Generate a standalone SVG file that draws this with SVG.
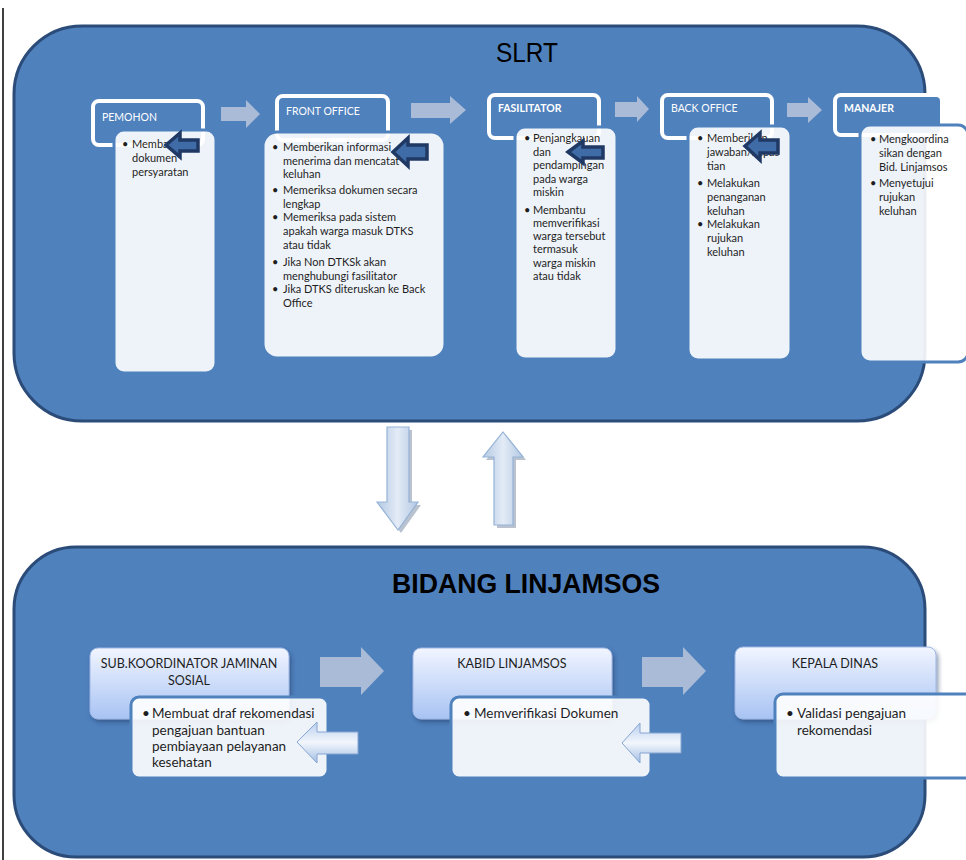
<svg xmlns="http://www.w3.org/2000/svg" width="966" height="860" viewBox="0 0 966 860">
<defs>
<style>
.container{fill:#4f81bd;stroke:#2b4b78;stroke-width:3}
.hdr{fill:#4f81bd;stroke:#ffffff;stroke-width:4}
.hlab{font-family:Lato,"Open Sans",sans-serif;font-size:10.5px;fill:#ffffff}
.card{fill:#ffffff;fill-opacity:0.9;stroke:#4f81bd;stroke-width:3}
.t{font-family:Lato,"Open Sans",sans-serif;font-size:11px;fill:#1e1e1e}
.tb{font-family:Lato,"Open Sans",sans-serif;font-size:13.5px;fill:#1e1e1e}
.bh{fill:url(#hg);stroke:#9db6e4;stroke-width:1}
.bhl{font-family:Lato,"Open Sans",sans-serif;font-size:12.5px;fill:#1e1e1e;text-anchor:middle}
.title{font-family:"Liberation Sans Narrow","Liberation Sans",Arial,sans-serif;fill:#000000;text-anchor:middle}
.flow{fill:#a9bbd6}
.dark{fill:#3f6ca6;stroke:#1f3864;stroke-width:3.5;stroke-linejoin:miter}
.lite{fill:url(#lg);stroke:#86a5d2;stroke-width:1}
.vert{fill:url(#vg);stroke:#95b3d7;stroke-width:1.2}
.shadow{fill:#7f8fa6;opacity:0.55}
</style>
<linearGradient id="hg" x1="0" y1="0" x2="0" y2="1">
<stop offset="0" stop-color="#f1f5ff"/>
<stop offset="1" stop-color="#a8c3f3"/>
</linearGradient>
<linearGradient id="lg" x1="0" y1="0" x2="0" y2="1">
<stop offset="0" stop-color="#b9cfee"/>
<stop offset="0.5" stop-color="#f2f6fc"/>
<stop offset="1" stop-color="#a2bde3"/>
</linearGradient>
<linearGradient id="vg" x1="0" y1="0" x2="1" y2="0">
<stop offset="0" stop-color="#b3c8e3"/>
<stop offset="0.5" stop-color="#e3ebf6"/>
<stop offset="1" stop-color="#b3c8e3"/>
</linearGradient>
<filter id="sh" x="-10%" y="-10%" width="125%" height="135%">
<feDropShadow dx="2" dy="3" stdDeviation="2" flood-color="#1f3864" flood-opacity="0.5"/>
</filter>
</defs>

<rect width="966" height="860" fill="#ffffff"/>
<line x1="3" y1="8" x2="3" y2="860" stroke="#000000" stroke-width="1.5"/>

<g id="slrt">
<rect class="container" x="14" y="26" width="911" height="395" rx="68" ry="68"/>
<text class="title" x="527" y="62" font-size="28" textLength="62" lengthAdjust="spacingAndGlyphs">SLRT</text>
</g>

<g id="bidang">
<rect class="container" x="14" y="547" width="911" height="310" rx="62" ry="62"/>
<text class="title" x="526" y="593" font-size="28" font-weight="bold" textLength="268" lengthAdjust="spacingAndGlyphs">BIDANG LINJAMSOS</text>
</g>

<g id="pemohon">
<rect class="hdr" x="93" y="101" width="110" height="44" rx="6"/>
<text class="hlab" x="102" y="121">PEMOHON</text>
<rect class="card" x="114" y="130" width="102" height="243" rx="10"/>
<text class="t" x="122" y="148">•</text>
<text class="t" x="132" y="148">Membawa</text>
<text class="t" x="132" y="162">dokumen</text>
<text class="t" x="132" y="176">persyaratan</text>
</g>

<g id="front-office">
<rect class="hdr" x="277" y="96" width="111" height="44" rx="6"/>
<text class="hlab" x="286" y="115">FRONT OFFICE</text>
<rect class="card" x="263" y="132" width="182" height="226" rx="14"/>
<text class="t" x="272" y="151">•</text>
<text class="t" x="283" y="151">Memberikan informasi</text>
<text class="t" x="283" y="164.5">menerima dan mencatat</text>
<text class="t" x="283" y="178">keluhan</text>
<text class="t" x="272" y="194">•</text>
<text class="t" x="283" y="194">Memeriksa dokumen secara</text>
<text class="t" x="283" y="207.5">lengkap</text>
<text class="t" x="272" y="221">•</text>
<text class="t" x="283" y="221">Memeriksa pada sistem</text>
<text class="t" x="283" y="235">apakah warga masuk DTKS</text>
<text class="t" x="283" y="249">atau tidak</text>
<text class="t" x="272" y="266">•</text>
<text class="t" x="283" y="266">Jika Non DTKSk akan</text>
<text class="t" x="283" y="279.5">menghubungi fasilitator</text>
<text class="t" x="272" y="293">•</text>
<text class="t" x="283" y="293">Jika DTKS diteruskan ke Back</text>
<text class="t" x="283" y="307">Office</text>
</g>

<g id="fasilitator">
<rect class="hdr" x="489" y="95" width="110" height="43" rx="6"/>
<text class="hlab" x="498" y="112" font-weight="bold">FASILITATOR</text>
<rect class="card" x="515" y="127" width="102" height="232" rx="10"/>
<text class="t" x="524" y="142">•</text>
<text class="t" x="533" y="142">Penjangkauan</text>
<text class="t" x="533" y="155.5">dan</text>
<text class="t" x="533" y="169">pendampingan</text>
<text class="t" x="533" y="182.5">pada warga</text>
<text class="t" x="533" y="196">miskin</text>
<text class="t" x="524" y="214">•</text>
<text class="t" x="533" y="214">Membantu</text>
<text class="t" x="533" y="227">memverifikasi</text>
<text class="t" x="533" y="240">warga tersebut</text>
<text class="t" x="533" y="253">termasuk</text>
<text class="t" x="533" y="266.5">warga miskin</text>
<text class="t" x="533" y="280">atau tidak</text>
</g>

<g id="back-office">
<rect class="hdr" x="662" y="95" width="110" height="43" rx="6"/>
<text class="hlab" x="671" y="112">BACK OFFICE</text>
<rect class="card" x="688" y="126" width="103" height="234" rx="10"/>
<text class="t" x="697" y="142">•</text>
<text class="t" x="707" y="142">Memberikan</text>
<text class="t" x="707" y="156">jawaban/kepas</text>
<text class="t" x="707" y="170">tian</text>
<text class="t" x="697" y="187">•</text>
<text class="t" x="707" y="187">Melakukan</text>
<text class="t" x="707" y="201">penanganan</text>
<text class="t" x="707" y="214.5">keluhan</text>
<text class="t" x="697" y="228">•</text>
<text class="t" x="707" y="228">Melakukan</text>
<text class="t" x="707" y="242">rujukan</text>
<text class="t" x="707" y="255.5">keluhan</text>
</g>

<g id="manajer">
<rect class="hdr" x="835" y="95" width="107" height="40" rx="6"/>
<text class="hlab" x="844" y="112" font-weight="bold">MANAJER</text>
<rect class="card" x="860" y="125" width="108" height="237" rx="10"/>
<text class="t" x="870" y="143">•</text>
<text class="t" x="879" y="143">Mengkoordina</text>
<text class="t" x="879" y="157">sikan dengan</text>
<text class="t" x="879" y="171">Bid. Linjamsos</text>
<text class="t" x="870" y="187">•</text>
<text class="t" x="879" y="187">Menyetujui</text>
<text class="t" x="879" y="201">rujukan</text>
<text class="t" x="879" y="215">keluhan</text>
</g>

<g id="sub-koordinator">
<rect class="bh" x="90" y="648" width="199" height="71" rx="8" filter="url(#sh)"/>
<text class="bhl" x="189" y="668">SUB.KOORDINATOR JAMINAN</text>
<text class="bhl" x="189" y="685">SOSIAL</text>
<rect class="card" x="131" y="697" width="197" height="81" rx="8"/>
<text class="tb" x="142" y="718">•</text>
<text class="tb" x="152" y="718">Membuat draf rekomendasi</text>
<text class="tb" x="152" y="734.5">pengajuan bantuan</text>
<text class="tb" x="152" y="751">pembiayaan pelayanan</text>
<text class="tb" x="152" y="767">kesehatan</text>
</g>

<g id="kabid">
<rect class="bh" x="413" y="648" width="199" height="71" rx="8" filter="url(#sh)"/>
<text class="bhl" x="512" y="668">KABID LINJAMSOS</text>
<rect class="card" x="451" y="697" width="200" height="81" rx="8"/>
<text class="tb" x="463" y="718">•</text>
<text class="tb" x="474" y="718">Memverifikasi Dokumen</text>
</g>

<g id="kepala-dinas">
<rect class="bh" x="735" y="647" width="201" height="72" rx="8" filter="url(#sh)"/>
<text class="bhl" x="835" y="668">KEPALA DINAS</text>
<rect class="card" x="775" y="694" width="200" height="84" rx="8"/>
<text class="tb" x="786" y="718">•</text>
<text class="tb" x="797" y="718">Validasi pengajuan</text>
<text class="tb" x="797" y="734.5">rekomendasi</text>
</g>

<g id="connectors">
<polygon class="flow" points="221,107 246,107 246,100 260,114 246,128 246,121 221,121"/>
<polygon class="flow" points="411,103 450,103 450,96 466,110 450,124 450,118 411,118"/>
<polygon class="flow" points="615,102 637,102 637,96 649,109 637,122 637,117 615,117"/>
<polygon class="flow" points="787,103 808,103 808,97 822,110 808,123 808,117 787,117"/>
<polygon class="dark" points="166,145 180,133 180,140 198,140 198,151 180,151 180,157"/>
<polygon class="dark" points="393,152 408,138 408,145 427,145 427,159 408,159 408,166"/>
<polygon class="dark" points="568,152 583,141 583,147 603,147 603,158 583,158 583,163"/>
<polygon class="dark" points="745,146 760,133 760,140 778,140 778,153 760,153 760,160"/>
<polygon class="shadow" points="390,430 412,430 412,505 421,505 401,533 379,505 390,505"/>
<polygon class="vert" points="387,427 409,427 409,502 418,502 398,530 377,502 387,502"/>
<polygon class="shadow" points="506,435 526,460 516,460 516,528 497,528 497,460 486,460"/>
<polygon class="vert" points="503,432 523,457 513,457 513,525 494,525 494,457 483,457"/>
<polygon class="flow" points="320,657 361,657 361,647 384,671 361,695 361,687 320,687"/>
<polygon class="flow" points="642,657 683,657 683,647 706,671 683,695 683,687 642,687"/>
<polygon class="lite" points="297,742 317,722 317,732 358,732 358,754 317,754 317,763"/>
<polygon class="lite" points="622,743 640,723 640,733 681,733 681,753 640,753 640,763"/>
</g>
</svg>
